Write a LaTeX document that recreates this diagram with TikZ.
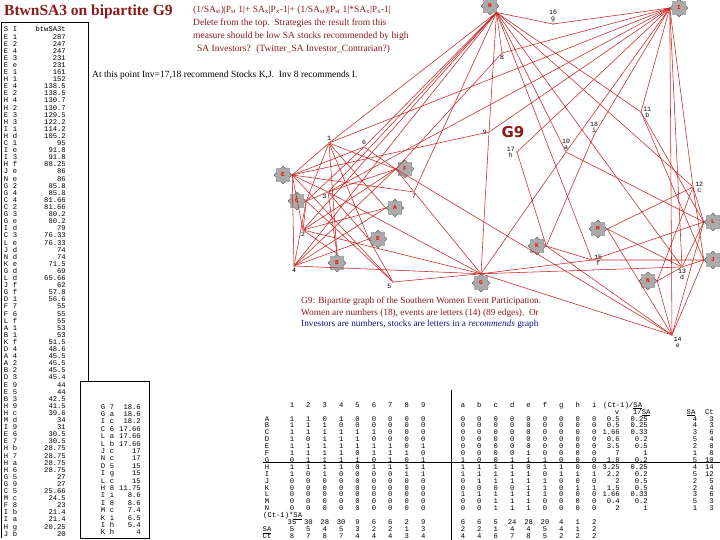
\documentclass[tikz,border=0pt]{standalone}
\usepackage{fontspec}
\setmainfont{Liberation Serif}
\setmonofont{Liberation Mono}
\newfontfamily\gninefont{DejaVu Sans}
\usepackage{tikz}
\usetikzlibrary{shapes.geometric}

\definecolor{dred}{RGB}{139,26,26}
\definecolor{ered}{RGB}{200,36,36}
\definecolor{sgray}{RGB}{170,170,170}
\definecolor{capblue}{RGB}{20,20,130}

\begin{document}
\begin{tikzpicture}[
    x=1pt, y=-1pt,
    stock/.style={
        star, star points=8, star point ratio=1.35,
        draw=black!75, line width=0.3pt, fill=sgray,
        minimum size=18pt, inner sep=0pt,
        text=red, font=\ttfamily\bfseries\fontsize{6}{6}\selectfont
    },
    inv/.style={circle, fill=ered, inner sep=0pt, minimum size=1.8pt},
    ilbl/.style={font=\ttfamily\fontsize{6.5}{6}\selectfont, inner sep=0.5pt, align=center},
    edge/.style={ered, line width=0.55pt},
    tcell/.style={font=\ttfamily\fontsize{7.2}{7.2}\selectfont, inner sep=0pt,
        text height=4.6pt, text depth=0.6pt},
    rule/.style={black, line width=0.7pt},
    label distance=0.5pt
]
\useasboundingbox (0,0) rectangle (720,540);
\fill[white] (0,0) rectangle (720,540);

% heading and notes
\node[anchor=west, text=dred, font=\bfseries\fontsize{15.5}{16}\selectfont, inner sep=0pt] (title) at (4,12) {BtwnSA3 on bipartite G9};
\node[anchor=north west, align=left, text=dred, font=\fontsize{9.5}{13}\selectfont, inner sep=0pt] (formula) at (193,6) {%
(1/SA\textsubscript{st})|P\textsubscript{st} 1|+ SA\textsubscript{x}|P\textsubscript{x}-1|+ (1/SA\textsubscript{st})|P\textsubscript{st} 1|*SA\textsubscript{x}|P\textsubscript{x}-1|\\
Delete from the top.\ \ Strategies the result from this\\
measure should be low SA stocks recommended by high\\
\hspace{4pt}SA Investors? \ (Twitter\_SA Investor\_Contrarian?)};
\node[anchor=west, font=\fontsize{9.5}{11}\selectfont, inner sep=0pt] (note) at (92,75) {At this point Inv=17,18 recommend Stocks K,J.\ \ Inv 8 recommends I.};

% left tables
\draw[rule] (1,538) -- (1,22) -- (88,22) -- (88,381) -- (80,381);
\draw[rule] (80,381) rectangle (149,538);
\node[tcell] (hs) at (6,30) {S};
\node[tcell] (hi) at (15,30) {I};
\node[tcell, anchor=east] (hb) at (66,30) {btwSA3t};
\foreach \s/\i/\v [count=\k] in {E/1/287, E/2/247, E/4/247, E/3/231, E/e/231, E/1/161, H/1/152,
    E/4/138.5, E/2/138.5, H/4/130.7, H/2/130.7, E/3/129.5, H/3/122.2, I/1/114.2, H/d/105.2,
    C/1/95, I/e/91.8, I/3/91.8, H/f/88.25, J/e/86, N/e/86, G/2/85.8, G/4/85.8, C/4/81.66,
    C/2/81.66, G/3/80.2, G/e/80.2, I/d/79, C/3/76.33, L/e/76.33, J/d/74, N/d/74, K/e/71.5,
    G/d/69, L/d/65.66, J/f/62, G/f/57.8, D/1/56.6, F/7/55, F/6/55, L/f/55, A/1/53, B/1/53,
    K/f/51.5, D/4/48.6, A/4/45.5, A/2/45.5, B/2/45.5, D/3/45.4, E/9/44, E/5/44, B/3/42.5,
    H/9/41.5, H/c/39.6, M/d/34, I/9/31, E/6/30.5, E/7/30.5, H/b/28.75, H/7/28.75, H/a/28.75,
    H/6/28.75, G/5/27, G/9/27, C/5/25.66, M/c/24.5, F/8/23, I/b/21.4, I/a/21.4, H/g/20.25, J/b/20} {
  \node[tcell] (s\k) at (6,{30+7.1*\k}) {\s};
  \node[tcell] (i\k) at (15,{30+7.1*\k}) {\i};
  \node[tcell, anchor=east] (b\k) at (66,{30+7.1*\k}) {\v};
}
\foreach \s/\i/\v [count=\k] in {G/7/18.6, G/a/18.6, I/c/18.2, C/6/17.66, L/a/17.66, L/b/17.66,
    J/c/17, N/c/17, D/5/15, I/g/15, L/c/15, H/8/11.75, I/i/8.6, I/8/8.6, M/c/7.4, K/i/6.5,
    I/h/5.4, K/h/4} {
  \node[tcell] (us\k) at (103,{407+7.4*(\k-1)}) {\s};
  \node[tcell] (ui\k) at (112,{407+7.4*(\k-1)}) {\i};
  \node[tcell, anchor=east] (ub\k) at (141,{407+7.4*(\k-1)}) {\v};
}

% stocks
\foreach \s/\x/\y in {H/490/6, I/679/8, E/283/175, F/405/169, C/297/201, A/395/208, D/378/239,
    B/337/263, G/481/283, K/537/246, M/598/229, L/713/222, J/713/260, N/648/281}
  \node[stock] (\s) at (\x,\y) {\s};

% investors
\node[inv, label={[ilbl]above:1}] (v1) at (329,143) {};
\node[inv, label={[ilbl]below:2}] (v2) at (303,230) {};
\node[inv, label={[ilbl]below left:3}] (v3) at (328,192) {};
\node[inv, label={[ilbl]below:4}] (v4) at (294,266) {};
\node[inv, label={[ilbl]below left:5}] (v5) at (393,282) {};
\node[inv, label={[ilbl]above:6}] (v6) at (364,147) {};
\node[inv, label={[ilbl]below:7}] (v7) at (414,192) {};
\node[inv, label={[ilbl]below:8}] (v8) at (502,53) {};
\node[inv, label={[ilbl]left:9}] (v9) at (489,132) {};
\node[inv, label={[ilbl]above:{10\\a}}] (va) at (566,152) {};
\node[inv, label={[ilbl]right:{11\\b}}] (vb) at (641,112) {};
\node[inv, label={[ilbl]right:{12\\c}}] (vc) at (693,187) {};
\node[inv, label={[ilbl]below:{13\\d}}] (vd) at (682,267) {};
\node[inv, label={[ilbl]below right:{14\\e}}] (ve) at (672,335) {};
\node[inv, label={[ilbl]right:{15\\f}}] (vf) at (592,260) {};
\node[inv, label={[ilbl]above:{16\\g}}] (vg) at (553,24) {};
\node[inv, label={[ilbl]left:{17\\h}}] (vh) at (517,152) {};
\node[inv, label={[ilbl]above:{18\\i}}] (vi) at (594,135) {};

% recommends edges
\foreach \s/\a/\vs in {A/180/{1,2,4}, B/90/{1,2,3}, C/0/{1,2,3,4,5,6}, D/180/{1,3,4,5},
    E/0/{1,2,3,4,5,6,7,9}, F/180/{1,2,3,4,6,7,8,e}, G/90/{2,3,4,5,7,9,a,d,e,f},
    H/-45/{1,2,3,4,6,7,8,9,a,b,c,d,f,g}, I/180/{1,3,8,9,a,b,c,d,e,g,h,i},
    J/180/{b,c,d,e,f}, K/0/{e,f,h,i}, L/180/{a,b,c,d,e,f}, M/0/{c,d,e}, N/0/{c,d,e}}
  \foreach \v in \vs
    \draw[edge] (\s.\a) -- (v\v);

\node[text=dred, font=\gninefont\bfseries\fontsize{15}{15}\selectfont] (gnine) at (513,132) {G9};

\node[anchor=north west, align=left, font=\fontsize{9.3}{11.5}\selectfont, inner sep=0pt] (caption) at (301,297) {%
\textcolor{dred}{G9: Bipartite graph of the Southern Women Event Participation.}\\
\textcolor{dred}{Women are numbers (18), events are letters (14) (89 edges).\ \ Or}\\
\textcolor{capblue}{Investors are numbers, stocks are letters in a \textit{recommends} graph}};

% adjacency matrix
\draw[rule] (451,390) -- (451,540);
\draw[rule] (263,462) -- (720,462);
\foreach \c [count=\k] in {1,2,3,4,5,6,7,8,9,a,b,c,d,e,f,g,h,i} {
  \pgfmathsetmacro\cx{\k<10 ? 292+(\k-1)*16.4 : 463+(\k-10)*16.4}
  \node[tcell] (mh\k) at (\cx,405) {\c};
}
\node[tcell, anchor=west] (mhp) at (603,405) {(Ct-1)/\underline{SA}};
\node[tcell] (mhv) at (617,412) {v};
\node[tcell, anchor=west] (mhq) at (633,412) {1/\underline{SA}};
\node[tcell] (mhs) at (691,412) {\underline{SA}};
\node[tcell, anchor=east] (mhc) at (714,412) {Ct};
\foreach \r/\vals/\p/\q/\sa/\ct [count=\n] in {
    A/{1,1,0,1,0,0,0,0,0,0,0,0,0,0,0,0,0,0}/0.5/0.25/4/3,
    B/{1,1,1,0,0,0,0,0,0,0,0,0,0,0,0,0,0,0}/0.5/0.25/4/3,
    C/{1,1,1,1,1,1,0,0,0,0,0,0,0,0,0,0,0,0}/1.66/0.33/3/6,
    D/{1,0,1,1,1,0,0,0,0,0,0,0,0,0,0,0,0,0}/0.6/0.2/5/4,
    E/{1,1,1,1,1,1,1,0,1,0,0,0,0,0,0,0,0,0}/3.5/0.5/2/8,
    F/{1,1,1,1,0,1,1,1,0,0,0,0,0,1,0,0,0,0}/7/1/1/8,
    G/{0,1,1,1,1,0,1,0,1,1,0,0,1,1,1,0,0,0}/1.8/0.2/5/10,
    H/{1,1,1,1,0,1,1,1,1,1,1,1,1,0,1,1,0,0}/3.25/0.25/4/14,
    I/{1,0,1,0,0,0,0,1,1,1,1,1,1,1,0,1,1,1}/2.2/0.2/5/12,
    J/{0,0,0,0,0,0,0,0,0,0,1,1,1,1,1,0,0,0}/2/0.5/2/5,
    K/{0,0,0,0,0,0,0,0,0,0,0,0,0,1,1,0,1,1}/1.5/0.5/2/4,
    L/{0,0,0,0,0,0,0,0,0,1,1,1,1,1,1,0,0,0}/1.66/0.33/3/6,
    M/{0,0,0,0,0,0,0,0,0,0,0,1,1,1,0,0,0,0}/0.4/0.2/5/3,
    N/{0,0,0,0,0,0,0,0,0,0,0,1,1,1,0,0,0,0}/2/1/1/3} {
  \pgfmathsetmacro\ry{419+6.9*(\n-1)}
  \node[tcell] (mr\n) at (267,\ry) {\r};
  \foreach \v [count=\k] in \vals {
    \pgfmathsetmacro\cx{\k<10 ? 292+(\k-1)*16.4 : 463+(\k-10)*16.4}
    \node[tcell] (m-\n-\k) at (\cx,\ry) {\v};
  }
  \node[tcell, anchor=east] (mp\n) at (620,\ry) {\p};
  \node[tcell, anchor=east] (mq\n) at (648,\ry) {\q};
  \node[tcell] (ms\n) at (695,\ry) {\sa};
  \node[tcell, anchor=east] (mc\n) at (714,\ry) {\ct};
}
\node[tcell, anchor=west] (mfoot) at (263,515.6) {(Ct-1)*\underline{SA}};
\foreach \lab/\y/\vals [count=\n] in {
    {}/522.5/{35,30,28,30,9,6,6,2,9,6,6,5,24,28,20,4,1,2},
    \underline{SA}/529.4/{5,5,4,5,3,2,2,1,3,2,2,1,4,4,5,4,1,2},
    Ct/536.3/{8,7,8,7,4,4,4,3,4,4,4,6,7,8,5,2,2,2}} {
  \node[tcell] (fl\n) at (267,\y) {\lab};
  \foreach \v [count=\k] in \vals {
    \pgfmathsetmacro\cx{\k<10 ? 292+(\k-1)*16.4 : 463+(\k-10)*16.4}
    \node[tcell] (f-\n-\k) at (\cx,\y) {\v};
  }
}
\end{tikzpicture}
\end{document}
